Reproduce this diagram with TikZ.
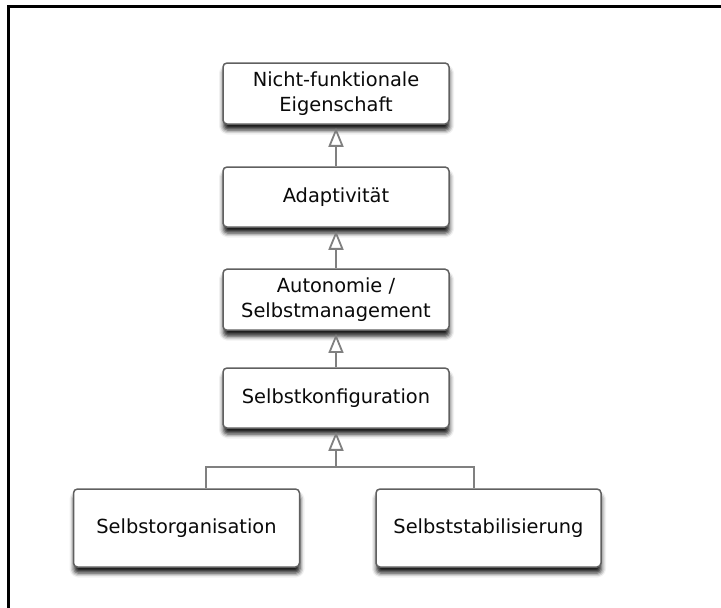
\documentclass[tikz,border=0pt]{standalone}
\usepackage{fontspec}
\setmainfont{DejaVu Sans}
\usetikzlibrary{arrows.meta,shadows.blur}

\definecolor{boxline}{HTML}{606060}
\definecolor{linkline}{HTML}{808080}
\definecolor{textcol}{HTML}{0A0A0A}

\tikzset{
  conceptbox/.style={
    draw=boxline, line width=1.5pt, fill=white, rounded corners=4pt,
    minimum width=226pt, minimum height=60pt, align=center,
    text=textcol, inner sep=0pt,
    font=\fontsize{19.4}{25}\selectfont,
    blur shadow={shadow xshift=0.5pt, shadow yshift=-6pt,
                 shadow blur radius=4.5pt, shadow opacity=90}
  },
  leafbox/.style={conceptbox, minimum width=226pt, minimum height=78pt},
  generalizes/.style={
    draw=linkline, line width=1.8pt,
    -{Triangle[fill=white, length=19pt, width=15pt, line width=1.8pt]}
  },
  branch/.style={draw=linkline, line width=1.6pt},
  frameline/.style={draw=black, line width=2.6pt}
}

\begin{document}
\begin{tikzpicture}[x=1pt, y=-1pt]
  \useasboundingbox (0,0) rectangle (721,608);

  % outer frame (top and left edges)
  \draw[frameline] (8.7,608) -- (8.7,6.7) -- (721,6.7);

  % hierarchy of properties
  \node[conceptbox, minimum height=61pt] (nf)   at (336,93.5) {Nicht-funktionale\\Eigenschaft};
  \node[conceptbox] (adapt) at (336,197) {Adaptivität};
  \node[conceptbox, minimum height=61pt] (auto) at (336,299.7) {Autonomie /\\Selbstmanagement};
  \node[conceptbox] (konf)  at (336,398) {Selbstkonfiguration};
  \node[leafbox] (org)  at (186.5,528) {Selbstorganisation};
  \node[leafbox, minimum width=225pt] (stab) at (488.5,528) {Selbststabilisierung};

  % generalization links
  \draw[generalizes] (adapt.north) -- ([yshift=-3pt]nf.south);
  \draw[generalizes] (auto.north)  -- ([yshift=-3pt]adapt.south);
  \draw[generalizes] (konf.north)  -- ([yshift=-3pt]auto.south);

  % shared branch below Selbstkonfiguration
  \coordinate (jl) at (206,467);
  \coordinate (jm) at (336,467);
  \coordinate (jr) at (474,467);
  \draw[branch] (org.north -| jl) -- (jl) -- (jr) -- (stab.north -| jr);
  \draw[generalizes] (jm) -- ([yshift=-3pt]konf.south);
\end{tikzpicture}
\end{document}
